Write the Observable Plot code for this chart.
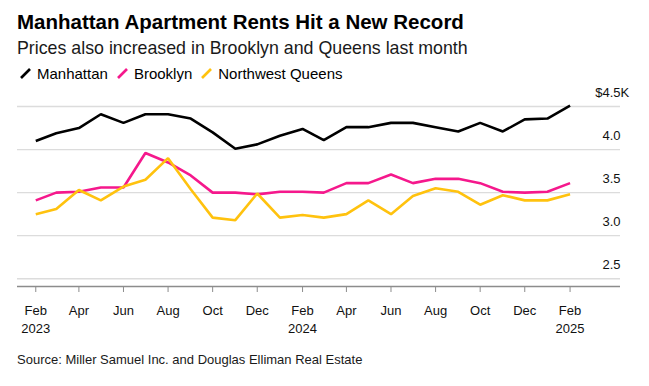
<!DOCTYPE html>
<html>
<head>
<meta charset="utf-8">
<script src="https://cdn.jsdelivr.net/npm/d3@7"></script>
<script src="https://cdn.jsdelivr.net/npm/@observablehq/plot@0.6"></script>
<style>
  body { margin: 0; background: #fff; font-family: "Liberation Sans", Arial, sans-serif; }
  #wrap { position: relative; width: 649px; height: 386px; overflow: hidden; }
  .title { position: absolute; left: 17px; top: 10px; font-size: 20.5px; font-weight: bold; color: #000; white-space: nowrap; }
  .subtitle { position: absolute; left: 17px; top: 38px; font-size: 17.8px; color: #1a1a1a; white-space: nowrap; }
  .legend { position: absolute; left: 20px; top: 65px; font-size: 15px; color: #000; display: flex; white-space: nowrap; }
  .legend span.item { display: inline-flex; align-items: center; margin-right: 9px; }
  .legend svg { margin-right: 6px; }
  .chart { position: absolute; left: 0; top: 84px; }
  .source { position: absolute; left: 17px; top: 352px; font-size: 13px; color: #1a1a1a; white-space: nowrap; }
</style>
</head>
<body>
<div id="wrap">
  <div class="title">Manhattan Apartment Rents Hit a New Record</div>
  <div class="subtitle">Prices also increased in Brooklyn and Queens last month</div>
  <div class="legend" id="legend"></div>
  <div class="chart" id="chart"></div>
  <div class="source">Source: Miller Samuel Inc. and Douglas Elliman Real Estate</div>
</div>
<script>
// Months: Feb 2023 .. Feb 2025
const months = ["2023-02","2023-03","2023-04","2023-05","2023-06","2023-07","2023-08","2023-09","2023-10","2023-11","2023-12",
  "2024-01","2024-02","2024-03","2024-04","2024-05","2024-06","2024-07","2024-08","2024-09","2024-10","2024-11","2024-12",
  "2025-01","2025-02"];
// Median rents, $K
const manhattan = [4.10,4.19,4.25,4.41,4.31,4.41,4.41,4.36,4.20,4.01,4.06,4.16,4.24,4.11,4.26,4.26,4.31,4.31,4.26,4.21,4.31,4.21,4.35,4.36,4.51];
const brooklyn  = [3.41,3.50,3.51,3.56,3.56,3.96,3.85,3.70,3.50,3.50,3.48,3.51,3.51,3.50,3.61,3.61,3.71,3.61,3.66,3.66,3.61,3.51,3.50,3.51,3.61];
const queens    = [3.25,3.31,3.53,3.41,3.57,3.65,3.90,3.54,3.21,3.18,3.49,3.21,3.24,3.21,3.25,3.41,3.25,3.46,3.55,3.51,3.36,3.47,3.41,3.41,3.48];

const seriesNames = ["Manhattan","Brooklyn","Northwest Queens"];
const seriesColors = ["#000000","#f5188c","#ffc20e"];
const yTicks = [2.5, 3.0, 3.5, 4.0, 4.5];
const xTickMonths = ["2023-02","2023-04","2023-06","2023-08","2023-10","2023-12","2024-02","2024-04","2024-06","2024-08","2024-10","2024-12","2025-02"];
const xDomain = ["2023-01-07","2025-04-11"];
const yDomain = [2.41, 4.5];

const parse = s => new Date(s.length === 7 ? s + "-01T00:00:00Z" : s + "T00:00:00Z");
const monthAbbr = ["Jan","Feb","Mar","Apr","May","Jun","Jul","Aug","Sep","Oct","Nov","Dec"];

const rows = [];
[manhattan, brooklyn, queens].forEach((vals, si) => {
  vals.forEach((v, i) => rows.push({date: parse(months[i]), value: v, series: seriesNames[si]}));
});

// Legend
const legend = document.getElementById("legend");
seriesNames.forEach((n, i) => {
  const item = document.createElement("span");
  item.className = "item";
  item.innerHTML = `<svg width="11" height="11"><line x1="1" y1="10" x2="10" y2="1" stroke="${seriesColors[i]}" stroke-width="2.6" stroke-linecap="butt"/></svg>${n}`;
  legend.appendChild(item);
});

const plot = Plot.plot({
  width: 649,
  height: 262,
  marginLeft: 17,
  marginRight: 29,
  marginTop: 22,
  marginBottom: 60,
  style: {fontFamily: "'Liberation Sans', Arial, sans-serif", fontSize: "13px", color: "#111", background: "transparent", overflow: "visible"},
  x: {type: "utc", domain: xDomain.map(parse), label: null},
  y: {domain: yDomain, label: null},
  color: {domain: seriesNames, range: seriesColors},
  marks: [
    Plot.ruleY(yTicks, {stroke: "#dcdcdc", strokeWidth: 1.3}),
    Plot.axisY(yTicks, {
      anchor: "right", tickSize: 0, tickPadding: 0, textAnchor: "start", dx: -18, dy: -14, label: null,
      tickFormat: d => d === 4.5 ? "4.5K" : d.toFixed(1), fill: "#111", fontSize: 13
    }),
    Plot.text([4.5], {y: d => d, frameAnchor: "right", text: () => "$", textAnchor: "end", dx: -18, dy: -14, fill: "#111", fontSize: 13}),
    Plot.ruleY([yDomain[0]], {stroke: "#8c8c8c", strokeWidth: 1.4}),
    Plot.axisX(xTickMonths.map(parse), {
      anchor: "bottom", tickSize: 6, tickPadding: 10, stroke: "#8c8c8c", fill: "#111", fontSize: 13, lineHeight: 1.35, label: null,
      tickFormat: d => monthAbbr[d.getUTCMonth()] + (d.getUTCMonth() === 1 ? "\n" + d.getUTCFullYear() : "")
    }),
    Plot.line(rows, {x: "date", y: "value", z: "series", stroke: "series", strokeWidth: 2.6, strokeLinejoin: "miter", strokeLinecap: "butt"})
  ]
});
document.getElementById("chart").appendChild(plot);
</script>
</body>
</html>
